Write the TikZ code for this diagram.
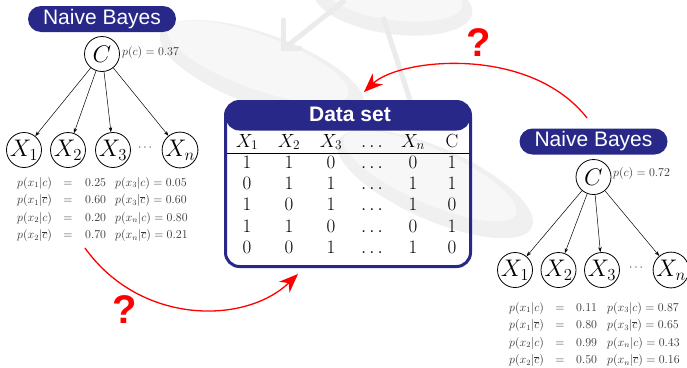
\RequirePackage{fix-cm}
\documentclass[tikz,border=0pt]{standalone}
\usepackage{fontspec}
\newfontfamily\lsans{Liberation Sans}
\usetikzlibrary{arrows.meta,shapes.misc}
\definecolor{navy}{RGB}{40,40,136}
\begin{document}
\begin{tikzpicture}[x=1pt,y=-1pt,
  pill/.style={rounded rectangle, fill=navy, text=white, minimum width=148pt, minimum height=26pt, inner sep=0pt, font=\lsans\fontsize{21}{24}\selectfont},
  varnode/.style={circle, draw=black, line width=0.8pt, minimum size=35pt, inner sep=0pt, font=\fontsize{24}{28}\selectfont},
  treearrow/.style={-{Stealth[length=5pt,width=3.5pt]}, line width=0.5pt},
  prob/.style={anchor=base west, inner sep=0pt, text=black!80, font=\fontsize{12}{14}\selectfont},
  probeq/.style={anchor=base, inner sep=0pt, text=black!80, font=\fontsize{12}{14}\selectfont},
  small/.style={inner sep=0pt, text=black!80, font=\fontsize{12}{14}\selectfont},
  cell/.style={anchor=base, inner sep=0pt, font=\fontsize{19}{22}\selectfont},
  qmark/.style={text=red, font=\lsans\bfseries\fontsize{40}{44}\selectfont, inner sep=0pt},
  redarrow/.style={draw=red, line width=1.3pt, -{Stealth[length=19pt,width=15pt,inset=6pt]}},
  disc/.style={fill=black!6},
  discin/.style={fill=black!3},
  ghost/.style={draw=black!8, line width=5pt},
]
\useasboundingbox (0,0) rectangle (687,367);
\fill[white] (0,0) rectangle (687,367);

% faint background discs
\fill[disc] (393,2) ellipse [x radius=80, y radius=32, rotate=-8];
\fill[discin] (393,-4) ellipse [x radius=70, y radius=24, rotate=-8];
\fill[disc] (262,70) ellipse [x radius=108, y radius=36, rotate=-20];
\fill[discin] (258,62) ellipse [x radius=96, y radius=27, rotate=-20];
\fill[disc] (435,184) ellipse [x radius=106, y radius=36, rotate=-24];
\fill[discin] (430,176) ellipse [x radius=94, y radius=27, rotate=-24];
\draw[ghost] (345,0) -- (286,47);
\draw[ghost, line cap=round] (283,20) -- (283,48) -- (300,48);
\draw[ghost] (383,17) -- (410,100);

% left tree
\node[pill] (nb1) at (102,19) {Naive Bayes};
\node[varnode] (c1) at (102,54) {$C$};
\node[small, anchor=west] (pc1) at (122,52) {$p(c) = 0.37$};
\node[varnode] (x11) at (24,150) {$X_1$};
\node[varnode] (x12) at (68,150) {$X_2$};
\node[varnode] (x13) at (113,150) {$X_3$};
\node[small] (dl) at (145,148) {$\cdots$};
\node[varnode] (x1n) at (180,150) {$X_n$};
\foreach \t in {x11,x12,x13,x1n} \draw[treearrow] (c1) -- (\t);

\foreach \yy/\a/\b/\c [count=\i] in {186/{p(x_1|c)}/{0.25}/{p(x_3|c) = 0.05}, 203.5/{p(x_1|\overline{c})}/{0.60}/{p(x_3|\overline{c}) = 0.60}, 221/{p(x_2|c)}/{0.20}/{p(x_n|c) = 0.80}, 238.5/{p(x_2|\overline{c})}/{0.70}/{p(x_n|\overline{c}) = 0.21}} {
  \node[prob] (la\i) at (17,\yy) {$\a$};
  \node[probeq] (le\i) at (68,\yy) {$=$};
  \node[prob] (lv\i) at (85,\yy) {$\b$};
  \node[prob] (lq\i) at (115,\yy) {$\c$};
}

% right tree
\node[pill] (nb2) at (593.5,141.5) {Naive Bayes};
\node[varnode] (c2) at (593.5,177) {$C$};
\node[small, anchor=west] (pc2) at (613,173) {$p(c) = 0.72$};
\node[varnode] (x21) at (515,270) {$X_1$};
\node[varnode] (x22) at (558.5,270) {$X_2$};
\node[varnode] (x23) at (602,270) {$X_3$};
\node[small] (dr) at (636,268) {$\cdots$};
\node[varnode] (x2n) at (671,270) {$X_n$};
\foreach \t in {x21,x22,x23,x2n} \draw[treearrow] (c2) -- (\t);

\foreach \yy/\a/\b/\c [count=\i] in {311/{p(x_1|c)}/{0.11}/{p(x_3|c) = 0.87}, 328.5/{p(x_1|\overline{c})}/{0.80}/{p(x_3|\overline{c}) = 0.65}, 346/{p(x_2|c)}/{0.99}/{p(x_n|c) = 0.43}, 363.5/{p(x_2|\overline{c})}/{0.50}/{p(x_n|\overline{c}) = 0.16}} {
  \node[prob] (ra\i) at (509,\yy) {$\a$};
  \node[probeq] (re\i) at (560,\yy) {$=$};
  \node[prob] (rv\i) at (576,\yy) {$\b$};
  \node[prob] (rq\i) at (607,\yy) {$\c$};
}

% data set box
\node[draw=navy, line width=3pt, rounded corners=14pt, minimum width=245pt, minimum height=165pt, inner sep=0pt,
  path picture={\fill[navy] (path picture bounding box.north west) rectangle ([yshift=-29pt]path picture bounding box.north east);}] (ds) at (348,184) {};
\node[text=white, inner sep=0pt, font=\lsans\bfseries\fontsize{21}{24}\selectfont] (dstitle) at (350,114) {Data set};
\draw[line width=0.8pt] (227,153) -- (469,153);
\foreach \v [count=\c] in {$X_1$,$X_2$,$X_3$,$\dots$,$X_n$,C} {
  \pgfmathsetmacro\xx{{247,289,331,372,413,452}[\c-1]}
  \node[cell] (h\c) at (\xx,147) {\v};
}
\foreach \yy/\row [count=\r] in {168.5/{1,1,0,\dots,0,1}, 189.5/{0,1,1,\dots,1,1}, 210.5/{1,0,1,\dots,1,0}, 232/{1,1,0,\dots,0,1}, 253/{0,0,1,\dots,1,0}} {
  \foreach \v [count=\c] in \row {
    \pgfmathsetmacro\xx{{247,289,331,372,413,452}[\c-1]}
    \node[cell] (v\r-\c) at (\xx,\yy) {$\v$};
  }
}

% red arrows with question marks
\coordinate (ustart) at (587,118);
\coordinate (uend) at (364,92);
\draw[redarrow] (ustart) .. controls (530,45) and (400,58) .. (uend);
\node[qmark] (q1) at (479,43) {?};
\coordinate (lstart) at (85,248);
\coordinate (lend) at (298,274);
\draw[redarrow] (lstart) .. controls (140,325) and (245,325) .. (lend);
\node[qmark] (q2) at (125,310) {?};
\end{tikzpicture}
\end{document}
